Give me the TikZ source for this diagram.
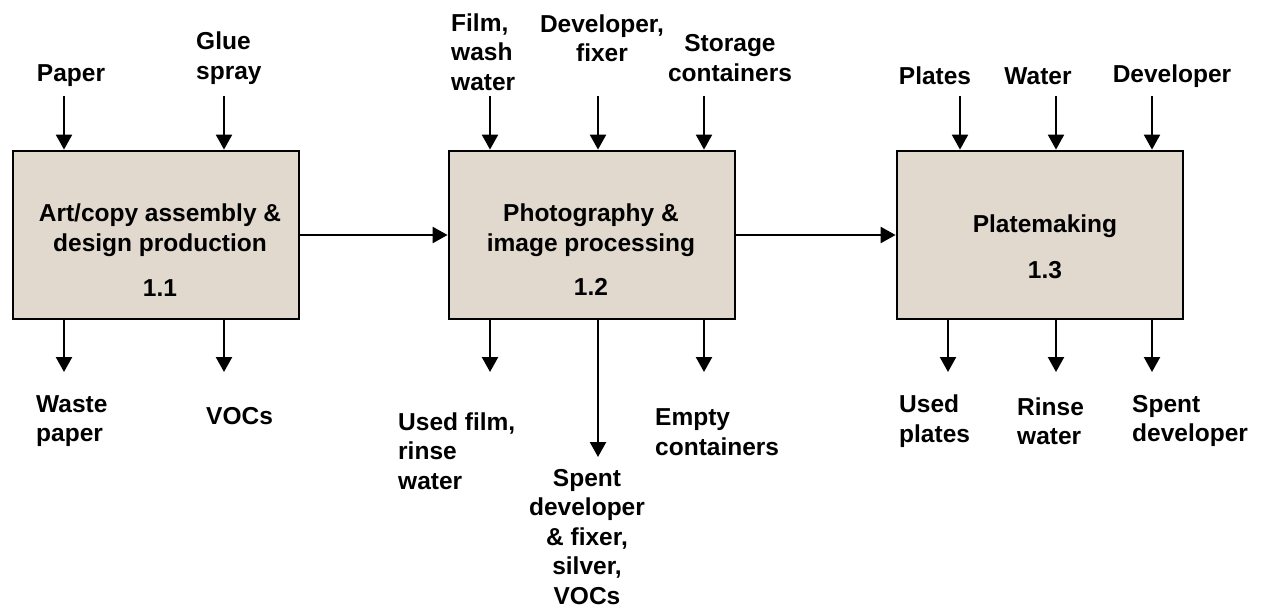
\documentclass[tikz,border=0pt]{standalone}
\usepackage{fontspec}
\setmainfont{Liberation Sans}
\usetikzlibrary{arrows.meta}
\definecolor{boxfill}{RGB}{225,217,205}
\tikzset{
 proc/.style={draw, line width=2.8pt, fill=boxfill, minimum width=286pt, minimum height=168pt, inner sep=0pt},
 lbl/.style={font=\fontsize{24.5}{29.5}\selectfont\bfseries, inner sep=0pt, align=left},
 clbl/.style={lbl, align=center},
 arr/.style={line width=2.3pt, -{Triangle[width=16pt,length=15pt]}},
}
\begin{document}
\begin{tikzpicture}[x=1pt,y=-1pt]
\useasboundingbox (0,0) rectangle (1261,611);
% process boxes
\node[proc] (b1) at (156,235) {};
\node[proc] (b2) at (592,235) {};
\node[proc] (b3) at (1040,235) {};
% box texts
\node[clbl] (t1) at (160,230) {Art/copy assembly \&\\design production};
\node[clbl] (n1) at (160,288) {1.1};
\node[clbl] (t2) at (591,230) {Photography \&\\image processing};
\node[clbl] (n2) at (591,287) {1.2};
\node[clbl] (t3) at (1045,226) {Platemaking};
\node[clbl] (n3) at (1045,270) {1.3};
% main flow
\draw[arr] (b1.east) -- (b2.west);
\draw[arr] (b2.east) -- (b3.west);
% input labels
\node[clbl] (iPaper) at (71,76) {Paper};
\node[lbl,anchor=west] (iGlue) at (196,58) {Glue\\spray};
\node[lbl,anchor=west] (iFilm) at (451,52) {Film,\\wash\\water};
\node[clbl] (iDev) at (602,38) {Developer,\\fixer};
\node[clbl] (iStor) at (730,58) {Storage\\containers};
\node[clbl] (iPlates) at (935,76) {Plates};
\node[clbl] (iWater) at (1038,76) {Water};
\node[clbl] (iDev3) at (1172,76) {Developer};
% input arrow starts
\coordinate (s11) at (64,96);
\coordinate (s12) at (224,96);
\coordinate (s21) at (490,96);
\coordinate (s22) at (598,96);
\coordinate (s23) at (704,96);
\coordinate (s31) at (960,96);
\coordinate (s32) at (1056,96);
\coordinate (s33) at (1152,96);
\draw[arr] (s11) -- (s11 |- b1.north);
\draw[arr] (s12) -- (s12 |- b1.north);
\draw[arr] (s21) -- (s21 |- b2.north);
\draw[arr] (s22) -- (s22 |- b2.north);
\draw[arr] (s23) -- (s23 |- b2.north);
\draw[arr] (s31) -- (s31 |- b3.north);
\draw[arr] (s32) -- (s32 |- b3.north);
\draw[arr] (s33) -- (s33 |- b3.north);
% output arrow ends
\coordinate (e11) at (64,372);
\coordinate (e12) at (224,372);
\coordinate (e21) at (490,372);
\coordinate (e22) at (598,457);
\coordinate (e23) at (704,372);
\coordinate (e31) at (948,372);
\coordinate (e32) at (1056,372);
\coordinate (e33) at (1152,372);
\draw[arr] (e11 |- b1.south) -- (e11);
\draw[arr] (e12 |- b1.south) -- (e12);
\draw[arr] (e21 |- b2.south) -- (e21);
\draw[arr] (e22 |- b2.south) -- (e22);
\draw[arr] (e23 |- b2.south) -- (e23);
\draw[arr] (e31 |- b3.south) -- (e31);
\draw[arr] (e32 |- b3.south) -- (e32);
\draw[arr] (e33 |- b3.south) -- (e33);
% output labels
\node[lbl,anchor=west] (oWaste) at (36,421) {Waste\\paper};
\node[lbl,anchor=west] (oVOC) at (206,416) {VOCs};
\node[lbl,anchor=west] (oFilm) at (398,451) {Used film,\\rinse\\water};
\node[clbl] (oSpent) at (587,537) {Spent\\developer\\\& fixer,\\silver,\\VOCs};
\node[lbl,anchor=west] (oEmpty) at (655,432) {Empty\\containers};
\node[lbl,anchor=west] (oPlates) at (899,421) {Used\\plates};
\node[lbl,anchor=west] (oRinse) at (1017,421) {Rinse\\water};
\node[lbl,anchor=west] (oSpent3) at (1132,421) {Spent\\developer};
\end{tikzpicture}
\end{document}
